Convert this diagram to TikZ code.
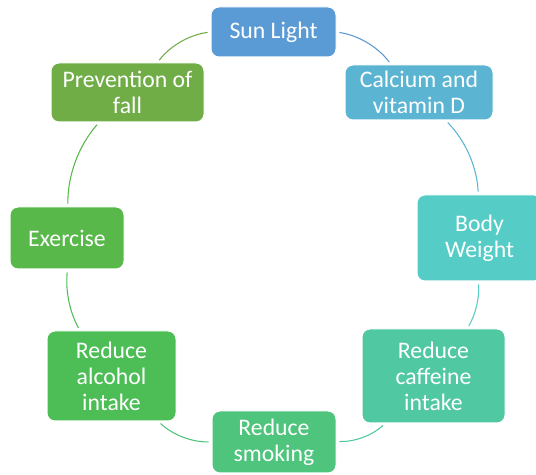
\documentclass[tikz,border=0pt]{standalone}
\usepackage{fontspec}
\setmainfont{Carlito}
\definecolor{c1}{HTML}{5B9BD5}
\definecolor{c2}{HTML}{5BB5D2}
\definecolor{c3}{HTML}{55CCC5}
\definecolor{c4}{HTML}{50C8A2}
\definecolor{c5}{HTML}{4EC47C}
\definecolor{c6}{HTML}{4DBE55}
\definecolor{c7}{HTML}{58B84A}
\definecolor{c8}{HTML}{70AD47}
\tikzset{
  box/.style={fill=#1, draw=white, line width=0.75pt, rounded corners=6pt, text=white, align=center,
    inner sep=0pt, font=\fontsize{17.8pt}{19.5pt}\selectfont},
  link/.style={draw=#1, line width=0.8pt, shorten <=2.2pt, shorten >=2.2pt, looseness=0.885}
}
\begin{document}
\begin{tikzpicture}[x=0.75pt,y=0.75pt]
\useasboundingbox (0,0) rectangle (536,475);
\node[box=c1, minimum width=93.75pt, minimum height=37.5pt] (sun) at (273.5,443) {Sun Light};
\node[box=c2, minimum width=111pt, minimum height=41.25pt] (cal) at (419,382.5) {Calcium and\\vitamin D};
\node[box=c3, minimum width=93.75pt, minimum height=64.5pt] (body) at (479.5,237) {Body\\Weight};
\node[box=c4, minimum width=107.25pt, minimum height=70.5pt] (caf) at (433.5,99) {Reduce\\caffeine\\intake};
\node[box=c5, minimum width=93pt, minimum height=46.5pt] (smo) at (274,33) {Reduce\\smoking};
\node[box=c6, minimum width=96.75pt, minimum height=67.5pt] (alc) at (111.5,99) {Reduce\\alcohol\\intake};
\node[box=c7, minimum width=85.5pt, minimum height=46.5pt] (exe) at (67,237) {Exercise};
\node[box=c8, minimum width=114.75pt, minimum height=44.25pt] (pre) at (127.5,382.5) {Prevention of\\fall};
\draw[link=c1] (sun) to[bend left=22.5] (cal);
\draw[link=c2] (cal) to[bend left=21] (body);
\draw[link=c3] (body) to[bend left=17] (caf);
\draw[link=c4] (caf) to[bend left=22] (smo);
\draw[link=c5] (smo) to[bend left=22] (alc);
\draw[link=c6] (alc) to[bend left=17] (exe);
\draw[link=c7] (exe) to[bend left=21] (pre);
\draw[link=c8] (pre) to[bend left=22.5] (sun);
\end{tikzpicture}
\end{document}
